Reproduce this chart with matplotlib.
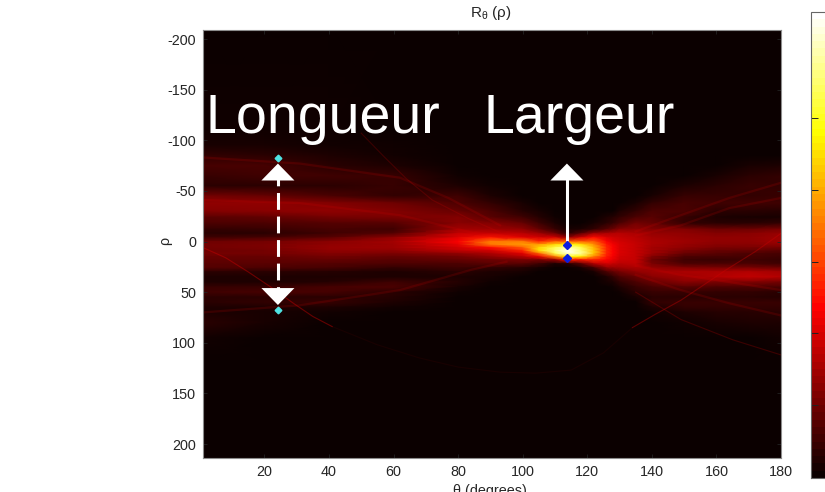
import matplotlib
matplotlib.use("Agg")
import matplotlib.pyplot as plt
import numpy as np
from matplotlib.colors import Normalize
from matplotlib.cm import ScalarMappable

plt.rcParams["font.family"] = ["Liberation Sans", "DejaVu Sans"]
plt.rcParams["mathtext.fontset"] = "custom"
plt.rcParams["mathtext.rm"] = "Liberation Sans"
plt.rcParams["axes.unicode_minus"] = False

W, H = 825, 492

rho = [-214, -110, -95, -85, -75, -65, -55, -45, -38, -30, -24, -18, -12, -8, -4, 0, 3, 6, 9,
       12, 15, 18, 22, 26, 30, 35, 40, 45, 50, 55, 60, 65, 70, 80, 95, 120, 214]
theta = [1, 20, 40, 60, 80, 90, 100, 105, 110, 114, 118, 122, 126, 128, 130, 135, 140, 150, 160, 170, 180]

bg = 0.002
# une colonne par angle
col_1 = [bg, .01, .02, .06, .09, .07, .05, .16, .20, .18, .12, .10, .06, .05, .08, .15, .16, .16, .15, .16, .14, .13, .12, .11, .05, .03, .03, .07, .08, .05, .05, .03, .03, .05, .015, bg, bg]
col_20 = [bg, .01, .02, .05, .09, .08, .05, .14, .20, .19, .13, .10, .07, .05, .09, .16, .17, .17, .16, .16, .14, .13, .12, .10, .05, .03, .03, .07, .09, .05, .06, .03, .02, .02, bg, bg, bg]
col_40 = [bg, .008, .012, .03, .05, .08, .05, .10, .18, .20, .16, .11, .09, .08, .12, .19, .20, .21, .20, .18, .16, .14, .11, .09, .04, .03, .04, .09, .09, .05, .07, .03, .012, bg, bg, bg, bg]
col_60 = [bg, bg, .008, .012, .03, .07, .07, .06, .15, .18, .17, .11, .08, .11, .20, .23, .22, .22, .20, .17, .14, .12, .10, .06, .03, .03, .08, .10, .05, .04, .03, .012, bg, bg, bg, bg, bg]
col_80 = [bg, bg, bg, bg, bg, .01, .03, .08, .10, .14, .18, .19, .23, .28, .32, .36, .33, .30, .27, .20, .16, .14, .10, .08, .05, .03, .04, .02, .01] + [bg] * 8
col_90 = [bg] * 6 + [.01, .03, .06, .10, .12, .18, .22, .28, .40, .55, .55, .38, .30, .24, .20, .15, .12, .06, .03, .02, .01] + [bg] * 10
col_100 = [bg] * 8 + [.02, .04, .08, .14, .20, .26, .32, .55, .60, .50, .42, .32, .25, .17, .12, .04, .02, bg] + [bg] * 11
col_105 = [bg] * 9 + [.02, .04, .08, .14, .22, .30, .42, .60, .68, .70, .50, .33, .17, .08, .02, bg] + [bg] * 12
col_110 = [bg] * 10 + [.01, .03, .07, .15, .30, .50, .68, .82, .87, .82, .55, .22, .03, bg] + [bg] * 13
col_114 = [bg] * 12 + [.02, .05, .20, .50, .75, .92, 1.0, .95, .75, .40, .04, bg] + [bg] * 13
col_118 = [bg] * 12 + [.03, .12, .30, .50, .70, .82, .86, .90, .72, .40, .12, .02] + [bg] * 13
col_122 = [bg] * 11 + [.02, .06, .22, .38, .50, .58, .64, .66, .66, .56, .42, .25, .08, .02] + [bg] * 12
col_126 = [bg] * 10 + [.03, .05, .12, .24, .31, .36, .40, .42, .42, .42, .40, .37, .30, .20, .10, .03, .02] + [bg] * 10
col_128 = [bg] * 10 + [.04, .07, .15, .25, .29, .32, .35, .36, .36, .36, .35, .33, .28, .21, .13, .06, .03, .01] + [bg] * 9
col_130 = [bg] * 9 + [.03, .06, .10, .19, .26, .28, .30, .31, .31, .31, .31, .30, .29, .26, .22, .16, .10, .06, .03, .01] + [bg] * 8
col_135 = [bg] * 8 + [.02, .06, .10, .16, .20, .24, .26, .27, .28, .28, .28, .28, .28, .28, .27, .24, .20, .14, .10, .07, .05, .02] + [bg] * 7
col_140 = [bg] * 7 + [.02, .06, .10, .12, .14, .18, .21, .23, .24, .24, .23, .23, .22, .18, .15, .17, .21, .22, .19, .14, .09, .07, .05, .06, .03, .01] + [bg] * 4
col_150 = [bg] * 6 + [.03, .07, .09, .10, .07, .06, .18, .20, .21, .22, .21, .20, .17, .14, .10, .08, .10, .18, .24, .22, .19, .12, .07, .05, .07, .06, .03, .01, bg, bg, bg]
col_160 = [bg] * 5 + [.02, .05, .07, .08, .05, .03, .05, .15, .18, .20, .20, .19, .17, .14, .12, .09, .07, .10, .17, .24, .25, .17, .10, .06, .05, .07, .06, .04, .02, bg, bg, bg]
col_170 = [bg] * 4 + [.02, .05, .07, .06, .08, .05, .02, .05, .15, .19, .20, .20, .19, .17, .14, .10, .09, .08, .10, .17, .25, .27, .18, .10, .06, .05, .07, .06, .045, .03, bg, bg, bg]
col_180 = [bg] * 4 + [.03, .06, .06, .07, .08, .04, .02, .06, .17, .21, .22, .22, .20, .16, .12, .09, .08, .07, .08, .15, .23, .25, .16, .10, .05, .04, .07, .06, .05, .03, .012, bg, bg]

columns = [col_1, col_20, col_40, col_60, col_80, col_90, col_100, col_105, col_110, col_114,
           col_118, col_122, col_126, col_128, col_130, col_135, col_140, col_150, col_160, col_170, col_180]

# traces fines qui traversent le faisceau : (theta, rho, opacite)
streaks = [
    ([1, 8, 15, 22, 29, 35, 41], [6, 16, 30, 45, 61, 74, 84], 0.45),
    ([41, 55, 68, 80, 93, 104, 115, 125, 134], [84, 102, 115, 124, 129, 130, 127, 110, 85], 0.07),
    ([134, 141, 149, 156, 163, 172, 180], [85, 72, 58, 43, 28, 10, -8], 0.4),
    ([50, 57, 64, 72, 83, 93], [-107, -84, -62, -41, -23, -9], 0.22),
    ([135, 149, 165, 180], [50, 77, 97, 112], 0.25),
]

# bords courbes de l'eventail, arretes avant le noeud
fan_curves = [
    ([1, 31, 62, 77, 93], [-83, -77, -63, -43, -16]),
    ([1, 31, 62, 84, 95], [-41, -38, -26, -9, -3]),
    ([1, 31, 62, 84, 95], [70, 63, 48, 28, 20]),
    ([135, 149, 164, 180], [-10, -26, -43, -58]),
    ([135, 149, 164, 180], [-6, -16, -33, -43]),
    ([135, 149, 164, 180], [24, 33, 40, 48]),
    ([135, 149, 164, 180], [33, 48, 61, 73]),
]

theta_marks_long = [24.2, 24.2]
rho_marks_long = [-82.5, 67.7]
theta_marks_larg = [113.7, 113.7]
rho_marks_larg = [3.5, 16.3]
cbar_ticks = [.157, .311, .464, .618, .773]

x_ticks = [20, 40, 60, 80, 100, 120, 140, 160, 180]
y_ticks = [-200, -150, -100, -50, 0, 50, 100, 150, 200]


def fig_x(px):
    return px / W


def fig_y(px):
    return 1 - px / H


fig = plt.figure(figsize=(W / 100, H / 100), dpi=100)
ax = fig.add_axes([fig_x(203), fig_y(458), (781 - 203) / W, (458 - 30) / H])

cmap = plt.get_cmap("hot", 64)
norm = Normalize(0, 1)
values = np.array(columns).T
ax.pcolormesh(theta, rho, values, shading="gouraud", cmap="hot", norm=norm, rasterized=True)

for xs, ys, a in streaks:
    ax.plot(xs, ys, color=(0.8, 0, 0), lw=0.8, alpha=a)
for xs, ys in fan_curves:
    ax.plot(xs, ys, color=(0.85, 0, 0), lw=1.6, alpha=0.16)

ax.set_xlim(1, 180)
ax.set_ylim(213.8, -208.9)
ax.set_xticks(x_ticks)
ax.set_yticks(y_ticks)
ax.tick_params(direction="in", length=3, width=0.6, top=True, right=True, labelsize=10.4,
               labelcolor="#262626", color="#222222", pad=5)
for s in ax.spines.values():
    s.set_color("#8c8c8c")
    s.set_linewidth(0.8)

# fleche en pointilles (longueur)
x_long = theta_marks_long[0]
ax.plot([x_long, x_long], [-71.6, 50], color="white", lw=2.2, dashes=(5.5, 2.2), dash_capstyle="butt")
# fleche pleine (largeur)
x_larg = theta_marks_larg[0]
ax.plot([x_larg, x_larg], [-62, -1], color="white", lw=2.2, solid_capstyle="butt")

head = dict(arrowstyle="-|>,head_length=12.2,head_width=11.9", mutation_scale=1, color="white",
            lw=0, shrinkA=0, shrinkB=0)
ax.annotate("", xy=(x_long, -77), xytext=(x_long, -60), arrowprops=head)
ax.annotate("", xy=(x_long, 62.7), xytext=(x_long, 46), arrowprops=head)
ax.annotate("", xy=(x_larg, -77), xytext=(x_larg, -60), arrowprops=head)

ax.plot(theta_marks_long, rho_marks_long, ls="none", marker="D", ms=3.4, mfc="#4fe3e3", mec="#4fe3e3")
ax.plot(theta_marks_larg, rho_marks_larg, ls="none", marker="D", ms=3.6, mfc="#0a1ee0", mec="#0a1ee0")

fig.text(fig_x(205), fig_y(133), "Longueur", color="white", fontsize=40, va="baseline", ha="left")
fig.text(fig_x(483), fig_y(133), "Largeur", color="white", fontsize=40, va="baseline", ha="left")

fig.text(fig_x(491), fig_y(13), r"R$_{\mathrm{θ}}$ (ρ)", fontsize=11, color="#262626", ha="center", va="center")
fig.text(fig_x(490), fig_y(491), "θ (degrees)", fontsize=10.4, color="#262626", ha="center", va="center")
fig.text(fig_x(165), fig_y(241), "ρ", fontsize=10.4, color="#262626", rotation=90, ha="center", va="center")

# la barre depasse du cadre a droite, comme sur l'original
cax = fig.add_axes([fig_x(811), fig_y(478), 50 / W, (478 - 12) / H])
cb = fig.colorbar(ScalarMappable(norm=norm, cmap=cmap), cax=cax)
cb.set_ticks(cbar_ticks)
cb.set_ticklabels([""] * len(cbar_ticks))
cb.ax.yaxis.set_ticks_position("left")
cb.ax.tick_params(direction="in", length=5, width=0.7, color="#222222")
cb.outline.set_edgecolor("#666666")
cb.outline.set_linewidth(0.8)

fig.savefig("out.png", dpi=100)
